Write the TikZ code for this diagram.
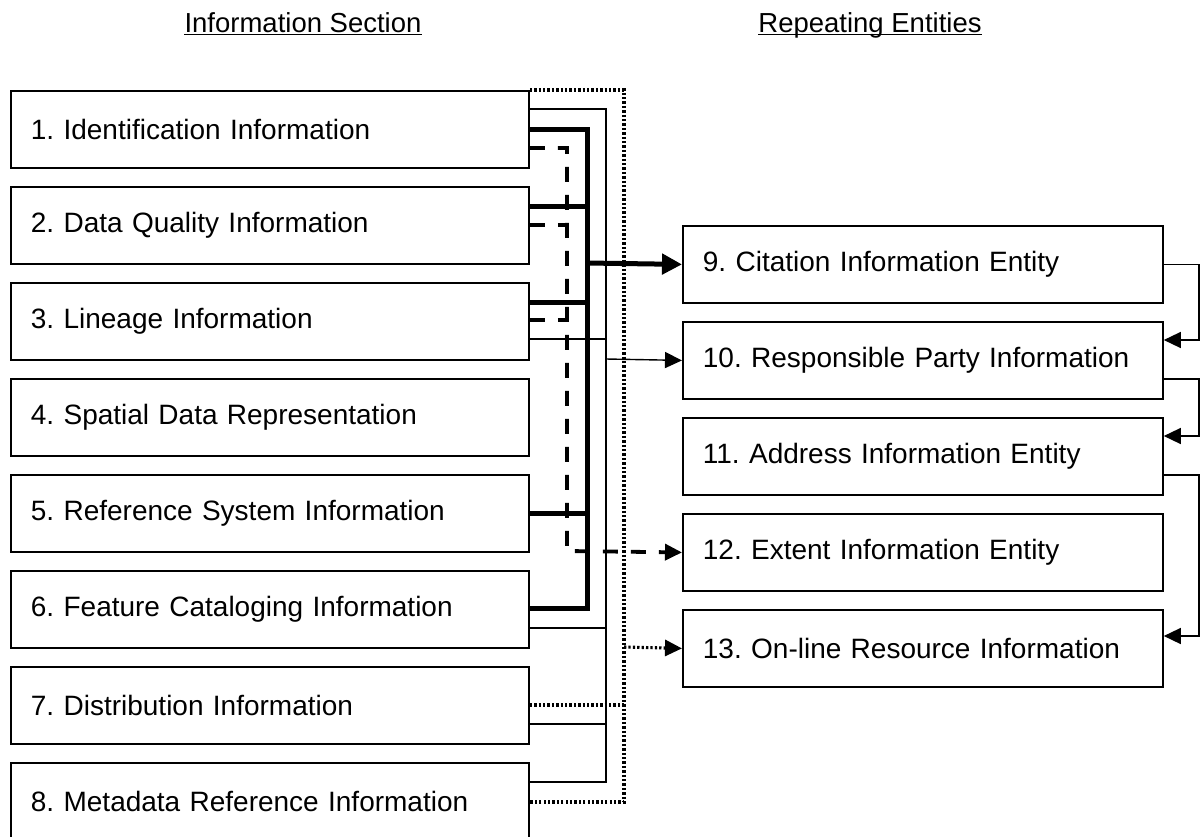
\documentclass[tikz,border=0pt]{standalone}
\usepackage{fontspec}
\setmainfont{Liberation Sans}
\usetikzlibrary{arrows.meta}
\frenchspacing

\begin{document}
\begin{tikzpicture}[x=1pt, y=-1pt,
  secbox/.style={draw, line width=1.8pt, anchor=north west, minimum height=77pt,
    inner xsep=20pt, inner ysep=0pt, align=left,
    font=\fontsize{28}{34}\selectfont},
  leftbox/.style={secbox, text width=478pt},
  rightbox/.style={secbox, text width=440pt},
  heading/.style={anchor=base, inner sep=0pt, font=\fontsize{27.5}{33}\selectfont},
  thinln/.style={line width=1.4pt},
  boldln/.style={line width=5pt},
  dashln/.style={line width=3.8pt, dash pattern=on 15pt off 13pt},
  dotln/.style={line width=3.1pt, dash pattern=on 2.3pt off 2.1pt},
  tipbig/.style={-{Triangle[length=20pt,width=20pt]}},
  tip/.style={-{Triangle[length=17pt,width=16pt]}}
]
\useasboundingbox (0,0) rectangle (1200,836);

% headings
\node[heading] (h1) at (303,32) {Information Section};
\node[heading] (h2) at (870,32) {Repeating Entities};
\draw[line width=1.8pt] ([yshift=-2.5pt]h1.base west) -- ([yshift=-2.5pt]h1.base east);
\draw[line width=1.8pt] ([yshift=-2.5pt]h2.base west) -- ([yshift=-2.5pt]h2.base east);

% information sections
\node[leftbox] (b1) at (10,90)  {1. Identification Information};
\node[leftbox] (b2) at (10,186) {2. Data Quality Information};
\node[leftbox] (b3) at (10,282) {3. Lineage Information};
\node[leftbox] (b4) at (10,378) {4. Spatial Data Representation};
\node[leftbox] (b5) at (10,474) {5. Reference System Information};
\node[leftbox] (b6) at (10,570) {6. Feature Cataloging Information};
\node[leftbox] (b7) at (10,666) {7. Distribution Information};
\node[leftbox] (b8) at (10,762) {8. Metadata Reference Information};

% repeating entities
\node[rightbox] (b9)  at (682,225) {9. Citation Information Entity};
\node[rightbox] (b10) at (682,321) {10. Responsible Party Information};
\node[rightbox] (b11) at (682,417) {11. Address Information Entity};
\node[rightbox] (b12) at (682,513) {12. Extent Information Entity};
\node[rightbox] (b13) at (682,609) {13. On-line Resource Information};

% thin bus -> responsible party
\draw[thinln] (b1.east |- 0,109) -| (606,782) -- (b8.east |- 0,782);
\foreach \b/\y in {b3/339, b6/628, b7/724}
  \draw[thinln] (\b.east |- 0,\y) -- (606,\y);
\draw[thinln, tip] (606,359) -- (b10.west);

% bold bus -> citation
\draw[boldln] (b1.east |- 0,129) -| (587,608) -- (b6.east |- 0,608);
\foreach \b/\y in {b2/206, b3/302, b5/513}
  \draw[boldln] (\b.east |- 0,\y) -- (587,\y);
\draw[boldln, tipbig] (587,263) -- (b9.west);

% dashed bus -> extent
\foreach \b/\y in {b2/225, b3/320}
  \draw[dashln] (\b.east |- 0,\y) -- (567,\y);
\draw[dashln, tip] (b1.east |- 0,148) -| (567,551) -- (b12.west);

% dotted bus -> on-line resource
\draw[dotln] (b1.north east) -| (624,802) -- (b8.east |- 0,802);
\draw[dotln] (b7.east |- 0,705) -- (624,705);
\draw[dotln, tip] (624,647) -- (b13.west);

% links between repeating entities
\draw[thinln, tip] (b9.east) -| (1199,340) -- (b10.east |- 0,340);
\draw[thinln, tip] (b10.east |- 0,379) -| (1199,436) -- (b11.east |- 0,436);
\draw[thinln, tip] (b11.east |- 0,475) -| (1199,636) -- (b13.east |- 0,636);
\end{tikzpicture}
\end{document}
